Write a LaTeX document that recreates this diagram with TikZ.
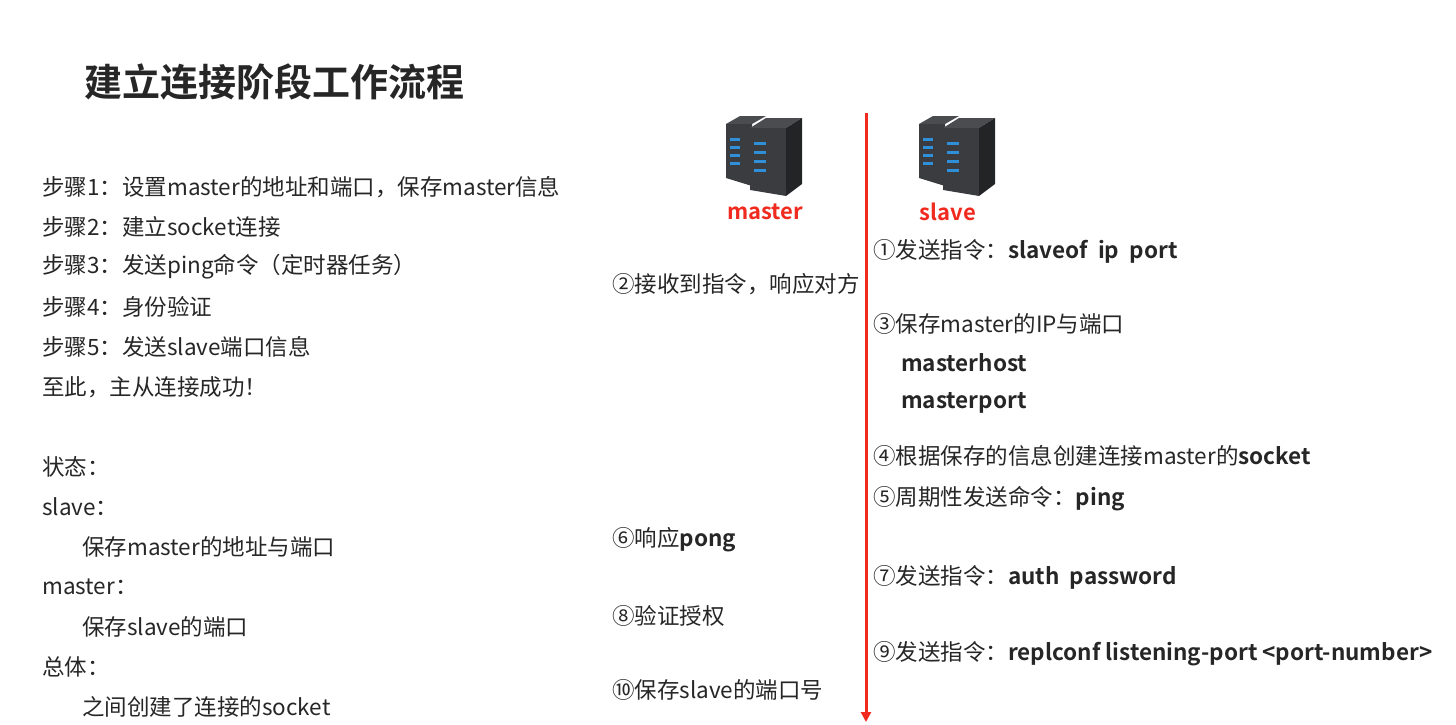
\documentclass[tikz,border=0pt]{standalone}
\usepackage{fontspec}
\setmainfont{Noto Sans CJK SC}[BoldFont=* Bold]
\usetikzlibrary{arrows.meta}
\definecolor{rd}{HTML}{F02A1E}
\definecolor{srv}{HTML}{3A3C3F}
\definecolor{srvd}{HTML}{232426}
\definecolor{srvt}{HTML}{4A4C50}
\definecolor{led}{HTML}{2F8FD8}
\begin{document}
\begin{tikzpicture}[x=1pt,y=-1pt,
  t/.style={anchor=west,inner sep=0pt,font=\fontsize{22.5}{22.5}\selectfont,text=black!85},
  lbl/.style={inner sep=0pt,font=\fontsize{22}{22}\selectfont\bfseries,text=rd},
  server/.pic={
    % left tower
    \fill[srvt] (0,10)--(14,2)--(40,2)--(26,10)--cycle;
    \fill[srv] (0,10)--(26,10)--(26,72)--(0,64)--cycle;
    % right tower
    \fill[srvt] (24,14)--(40,4)--(76,4)--(60,14)--cycle;
    \fill[srv] (24,14)--(60,14)--(60,82)--(24,76)--cycle;
    \fill[srvd] (60,14)--(76,4)--(76,70)--(60,82)--cycle;
    \foreach \i in {0,1,2,3}{
      \fill[led] (4,{24+\i*8}) rectangle (14,{27+\i*8});
      \fill[led] (28,{28+\i*9}) rectangle (40,{31+\i*9});}
  }]
\useasboundingbox (0,0) rectangle (1456,725);
\node[anchor=west,inner sep=0pt,font=\fontsize{38}{38}\selectfont\bfseries,text=black!85] (title) at (84,82) {建立连接阶段工作流程};
\foreach \y/\s [count=\k] in {187/步骤1：设置master的地址和端口，保存master信息,227/步骤2：建立socket连接,267/步骤3：发送ping命令（定时器任务）,307/步骤4：身份验证,347/步骤5：发送slave端口信息,387/至此，主从连接成功！,467/状态：,507/slave：,587/master：,667/总体：}
  \node[t] (l\k) at (42,\y) {\s};
\node[t] (i1) at (82,547) {保存master的地址与端口};
\node[t] (i2) at (82,627) {保存slave的端口};
\node[t] (i3) at (82,707) {之间创建了连接的socket};
\pic at (726,114) {server};
\pic at (919,114) {server};
\node[lbl] (m) at (765,212) {master};
\node[lbl] (s) at (948,212) {slave};
\coordinate (top) at (866,113);
\coordinate (bot) at (866,722);
\draw[rd,line width=3pt,-{Triangle[length=10pt,width=10pt]}] (top)--(bot);
\node[t] (r1) at (873,251) {①发送指令：\textbf{slaveof\ \ ip\ \ port}};
\node[t] (r3) at (873,324) {③保存master的IP与端口};
\node[t] (r3a) at (901,363) {\textbf{masterhost}};
\node[t] (r3b) at (901,403) {\textbf{masterport}};
\node[t] (r4) at (873,456) {④根据保存的信息创建连接master的\textbf{socket}};
\node[t] (r5) at (873,499) {⑤周期性发送命令：\textbf{ping}};
\node[t] (r7) at (873,577) {⑦发送指令：\textbf{auth\ \ password}};
\node[t] (r9) at (873,654) {⑨发送指令：\textbf{replconf listening-port <port-number>}};
\node[t] (m2) at (612,284) {②接收到指令，响应对方};
\node[t] (m6) at (612,540) {⑥响应\textbf{pong}};
\node[t] (m8) at (612,616) {⑧验证授权};
\node[t] (m10) at (612,690) {⑩保存slave的端口号};
\end{tikzpicture}
\end{document}
